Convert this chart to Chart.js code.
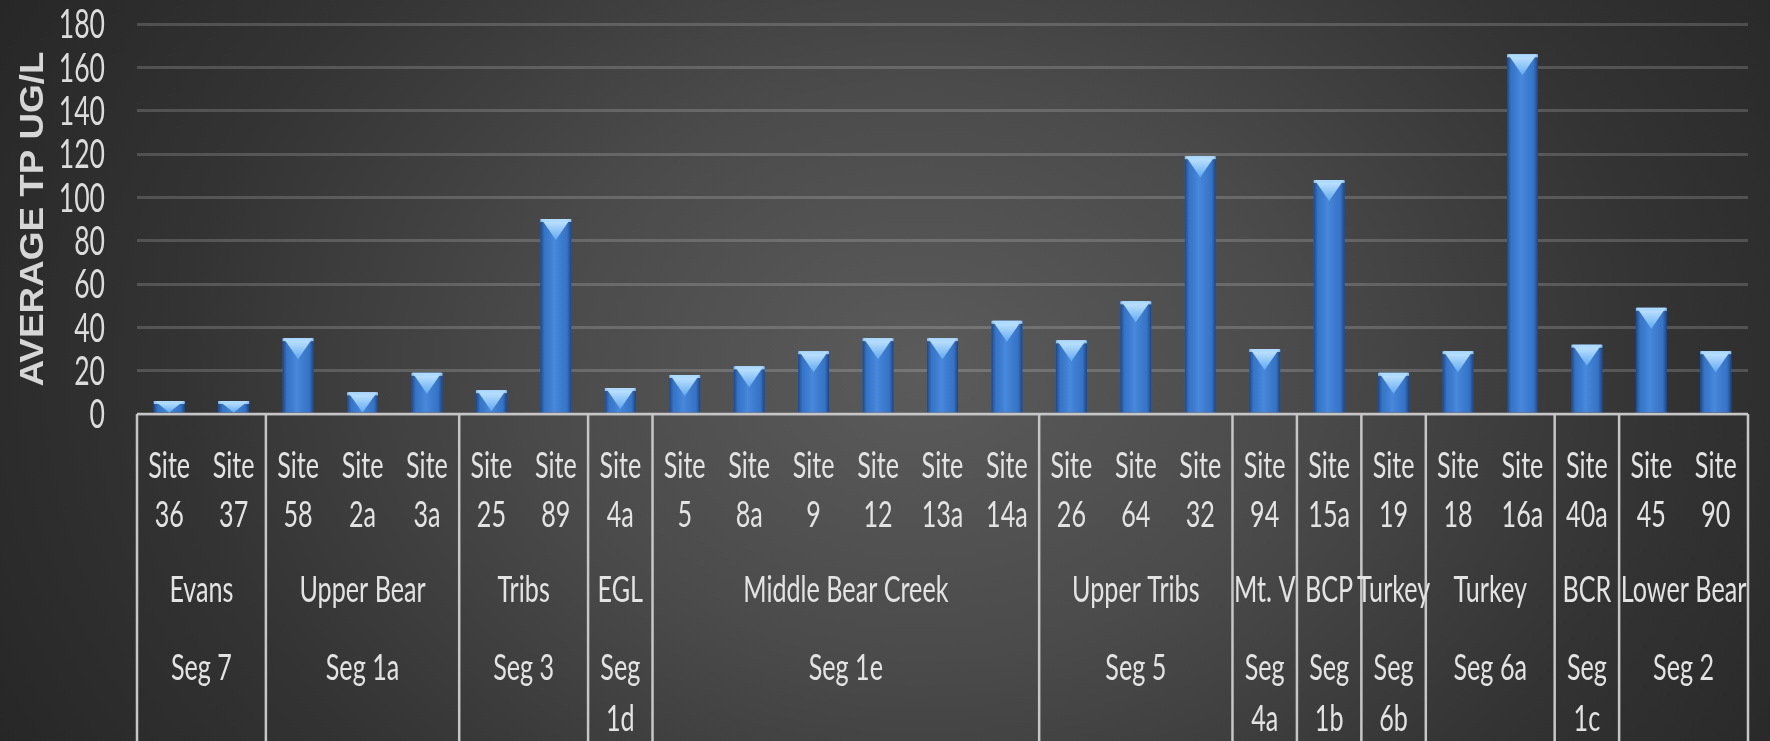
<!DOCTYPE html>
<html>
<head>
<meta charset="utf-8">
<script src="https://cdn.jsdelivr.net/npm/chart.js@4.4.1/dist/chart.umd.min.js"></script>
<style>
html,body{margin:0;padding:0;width:1770px;height:741px;overflow:hidden;
background:radial-gradient(ellipse 60% 110% at 52% 50%, #5b5b5b 0%, #4b4b4b 35%, #333333 70%, #262626 100%);}
canvas{display:block}
</style>
</head>
<body>
<canvas id="c" width="1770" height="741"></canvas>
<script>
// ---- data ----
const siteIds = ['36','37','58','2a','3a','25','89','4a','5','8a','9','12','13a','14a','26','64','32','94','15a','19','18','16a','40a','45','90'];
const siteLabels = siteIds.map(s => ['Site', s]);
const avgTP = [6,6,35,10,19,11,90,12,18,22,29,35,35,43,34,52,119,30,108,19,29,166,32,49,29];
const groupNames = ['Evans','Upper Bear','Tribs','EGL','Middle Bear Creek','Upper Tribs','Mt. V','BCP','Turkey','Turkey','BCR','Lower Bear'];
const groupSegs  = ['Seg 7','Seg 1a','Seg 3','Seg 1d','Seg 1e','Seg 5','Seg 4a','Seg 1b','Seg 6b','Seg 6a','Seg 1c','Seg 2'];
const groupSizes = [2,3,2,1,6,3,1,1,1,2,1,2];
const yMin = 0, yMax = 180, yStep = 20;
const yTitle = 'AVERAGE TP UG/L';

// ---- styles ----
const SX = 0.68;
const FONT = 'Lato, "Open Sans", sans-serif';
const TEXT = '#e3e3e3';
const XFS = 37;

function ctext(ctx, str, x, y, size, align, weight, sx) {
  ctx.save();
  ctx.translate(x, y);
  ctx.scale(sx || SX, 1);
  ctx.font = (weight || 'normal') + ' ' + size + 'px ' + FONT;
  ctx.textAlign = align || 'center';
  ctx.textBaseline = 'alphabetic';
  ctx.fillText(str, 0, 0);
  ctx.restore();
}
function twidth(ctx, str, size) {
  ctx.save();
  ctx.font = size + 'px ' + FONT;
  const w = ctx.measureText(str).width * SX;
  ctx.restore();
  return w;
}

const barStyle = {
  id: 'barStyle',
  afterDatasetsDraw(chart) {
    const ctx = chart.ctx;
    const meta = chart.getDatasetMeta(0);
    ctx.save();
    meta.data.forEach(el => {
      const {x, y, base, width} = el.getProps(['x', 'y', 'base', 'width'], true);
      const l = x - width / 2, r = x + width / 2, h = base - y;
      const g = ctx.createLinearGradient(l, 0, r, 0);
      g.addColorStop(0, 'rgba(10,35,85,0.6)');
      g.addColorStop(0.14, 'rgba(15,45,100,0.1)');
      g.addColorStop(0.45, 'rgba(150,200,255,0.16)');
      g.addColorStop(0.86, 'rgba(15,45,100,0.12)');
      g.addColorStop(1, 'rgba(8,28,70,0.6)');
      ctx.fillStyle = g;
      ctx.fillRect(l, y, width, h);
      const th = Math.min(21, h);
      const tg = ctx.createLinearGradient(0, y, 0, y + th);
      tg.addColorStop(0, '#c8e8ff');
      tg.addColorStop(1, '#62aaf0');
      ctx.beginPath();
      ctx.moveTo(l + 1, y);
      ctx.lineTo(r - 1, y);
      ctx.lineTo(x, y + th);
      ctx.closePath();
      ctx.fillStyle = tg;
      ctx.fill();
      ctx.fillStyle = 'rgba(170,216,255,0.85)';
      ctx.fillRect(l, y, width, Math.min(3, h));
    });
    ctx.restore();
  }
};

const axisText = {
  id: 'axisText',
  afterDraw(chart) {
    const ctx = chart.ctx, xs = chart.scales.x, ys = chart.scales.y, ca = chart.chartArea;
    ctx.save();
    // y tick labels
    ctx.fillStyle = '#dcdcdc';
    ys.ticks.forEach(t => {
      const py = ys.getPixelForValue(t.value);
      ctext(ctx, String(t.value), 105, py + 14.3, 40, 'right', 'normal', 0.665);
    });
    // y title
    ctx.save();
    ctx.font = 'bold 34px "Liberation Sans", Arial, sans-serif';
    const tw = ctx.measureText(yTitle).width;
    const tsx = 335 / tw;
    ctx.translate(31, (ca.top + ca.bottom) / 2);
    ctx.rotate(-Math.PI / 2);
    ctx.scale(tsx, 1);
    ctx.textAlign = 'center';
    ctx.textBaseline = 'alphabetic';
    ctx.fillStyle = '#d6d6d6';
    ctx.fillText(yTitle, 0, 12);
    ctx.restore();

    // axis box and separators
    const bounds = k => {
      if (k <= 0) return ca.left;
      if (k >= siteIds.length) return ca.right;
      return (xs.getPixelForValue(k - 1) + xs.getPixelForValue(k)) / 2;
    };
    ctx.strokeStyle = '#c6c6c6';
    ctx.lineWidth = 2.5;
    ctx.beginPath();
    ctx.moveTo(ca.left, ca.bottom);
    ctx.lineTo(ca.right, ca.bottom);
    let k = 0;
    const edges = [0];
    groupSizes.forEach(n => { k += n; edges.push(k); });
    edges.forEach(e => {
      const px = bounds(e);
      ctx.moveTo(px, ca.bottom);
      ctx.lineTo(px, chart.height);
    });
    ctx.stroke();

    // site labels
    ctx.fillStyle = TEXT;
    siteLabels.forEach((lab, i) => {
      const px = xs.getPixelForValue(i);
      ctext(ctx, lab[0], px, ca.bottom + 63.5, XFS);
      ctext(ctx, lab[1], px, ca.bottom + 113, XFS);
    });
    // group labels
    for (let g = 0; g < groupSizes.length; g++) {
      const l = bounds(edges[g]), r = bounds(edges[g + 1]);
      const cx = (l + r) / 2;
      ctext(ctx, groupNames[g], cx, ca.bottom + 187.5, XFS);
      const seg = groupSegs[g];
      let lines = [seg];
      if (twidth(ctx, seg, XFS) > (r - l) - 4) lines = seg.split(' ');
      lines.forEach((ln, j) => ctext(ctx, ln, cx, ca.bottom + 265.5 + j * 51, XFS));
    }
    ctx.restore();
  }
};

new Chart(document.getElementById('c'), {
  type: 'bar',
  data: {
    labels: siteLabels,
    datasets: [{
      data: avgTP,
      backgroundColor: '#3a7dd4',
      borderWidth: 0,
      barPercentage: 0.48,
      categoryPercentage: 1.0
    }]
  },
  options: {
    responsive: false,
    animation: false,
    layout: { padding: { left: 137, right: 22, top: 24, bottom: 327 } },
    plugins: { legend: { display: false }, tooltip: { enabled: false } },
    scales: {
      x: { type: 'category', display: false, offset: true },
      y: {
        display: true, min: yMin, max: yMax,
        ticks: { display: false, stepSize: yStep },
        grid: { color: 'rgba(255,255,255,0.17)', lineWidth: 3, drawTicks: false },
        border: { display: false }
      }
    }
  },
  plugins: [barStyle, axisText]
});
</script>
</body>
</html>
